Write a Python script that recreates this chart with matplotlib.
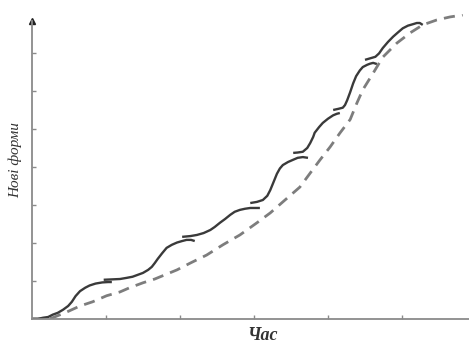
import matplotlib.pyplot as plt

# dashed curve
dash_x = [0, 0.18, 0.28, 0.47, 0.65, 0.82, 1.01, 1.19, 1.32, 1.50, 1.66, 1.96, 2.14,
          2.36, 2.58, 2.81, 3.04, 3.22, 3.39, 3.62, 3.76, 3.89, 4.03, 4.16, 4.30,
          4.39, 4.47, 4.61, 4.74, 4.93, 5.11, 5.28, 5.47, 5.65, 5.82]
dash_y = [0, 0, 0.03, 0.18, 0.34, 0.45, 0.61, 0.71, 0.82, 0.95, 1.05, 1.29, 1.47,
          1.68, 1.95, 2.21, 2.53, 2.79, 3.08, 3.47, 3.84, 4.18, 4.53, 4.89, 5.25,
          5.68, 6.03, 6.47, 6.89, 7.26, 7.53, 7.74, 7.87, 7.95, 8.0]

# solid curve, drawn as overlapping pieces
seg_x = [
    [0, 0.08, 0.15, 0.22, 0.28, 0.35, 0.42, 0.49, 0.54, 0.59, 0.65, 0.72, 0.78, 0.86, 0.95, 1.03, 1.08],
    [0.97, 1.08, 1.19, 1.28, 1.36, 1.43, 1.50, 1.57, 1.62, 1.66, 1.70, 1.76, 1.82, 1.89, 1.96, 2.03, 2.09, 2.15, 2.20],
    [2.03, 2.14, 2.23, 2.32, 2.41, 2.47, 2.54, 2.61, 2.68, 2.74, 2.81, 2.88, 2.95, 3.01, 3.08],
    [2.95, 3.04, 3.12, 3.18, 3.22, 3.26, 3.31, 3.35, 3.39, 3.46, 3.53, 3.59, 3.66, 3.73],
    [3.53, 3.59, 3.66, 3.72, 3.76, 3.80, 3.82, 3.88, 3.93, 4.00, 4.07, 4.12, 4.16],
    [4.07, 4.14, 4.20, 4.23, 4.26, 4.30, 4.34, 4.38, 4.43, 4.47, 4.53, 4.57, 4.61, 4.66],
    [4.50, 4.57, 4.64, 4.69, 4.74, 4.81, 4.88, 4.95, 5.01, 5.08, 5.15, 5.20, 5.24, 5.28],
]
seg_y = [
    [0, 0, 0.03, 0.05, 0.11, 0.16, 0.24, 0.34, 0.45, 0.60, 0.73, 0.82, 0.88, 0.93, 0.96, 0.97, 0.97],
    [1.03, 1.04, 1.05, 1.08, 1.11, 1.16, 1.21, 1.29, 1.37, 1.47, 1.58, 1.73, 1.87, 1.95, 2.01, 2.05, 2.08, 2.08, 2.05],
    [2.16, 2.18, 2.21, 2.26, 2.34, 2.42, 2.53, 2.63, 2.74, 2.82, 2.87, 2.90, 2.92, 2.92, 2.92],
    [3.05, 3.08, 3.13, 3.24, 3.39, 3.58, 3.82, 3.96, 4.05, 4.13, 4.19, 4.24, 4.26, 4.24],
    [4.37, 4.38, 4.40, 4.50, 4.63, 4.79, 4.90, 5.05, 5.16, 5.27, 5.36, 5.40, 5.42],
    [5.50, 5.53, 5.56, 5.63, 5.76, 5.97, 6.20, 6.39, 6.54, 6.63, 6.69, 6.72, 6.74, 6.71],
    [6.82, 6.86, 6.90, 6.99, 7.13, 7.29, 7.43, 7.55, 7.65, 7.72, 7.76, 7.79, 7.79, 7.74],
]

fig = plt.figure(figsize=(4.69, 3.47), dpi=100)
ax = fig.add_axes([0.068, 0.081, 0.932, 0.879])

ax.plot(dash_x, dash_y, color='#7d7d7d', lw=2, dashes=(4, 2.6))
for xs, ys in zip(seg_x, seg_y):
    ax.plot(xs, ys, color='#3a3a3a', lw=1.7, solid_capstyle='butt',
            solid_joinstyle='round')

ax.set_xlim(0, 5.905)
ax.set_ylim(0, 8.03)
for s in ['top', 'right']:
    ax.spines[s].set_visible(False)
for s in ['left', 'bottom']:
    ax.spines[s].set_color('#8a8a8a')
    ax.spines[s].set_linewidth(1.3)
ax.spines['left'].set_bounds(0, 7.85)
ax.plot([0], [7.85], marker='^', color='#222222', ms=5, clip_on=False)

ax.set_xticks([1, 2, 3, 4, 5])
ax.set_yticks([1, 2, 3, 4, 5, 6, 7])
ax.tick_params(direction='in', length=3, width=1, color='#8a8a8a',
               labelbottom=False, labelleft=False)

fig.text(0.032, 0.539, 'Нові форми', rotation=90, ha='center', va='center',
         family='Liberation Serif', style='italic', fontsize=11, color='#333333')
fig.text(0.559, 0.032, 'Час', ha='center', va='center', family='Liberation Serif',
         style='italic', weight='bold', fontsize=13, color='#333333')

fig.savefig('out.png', dpi=100)
